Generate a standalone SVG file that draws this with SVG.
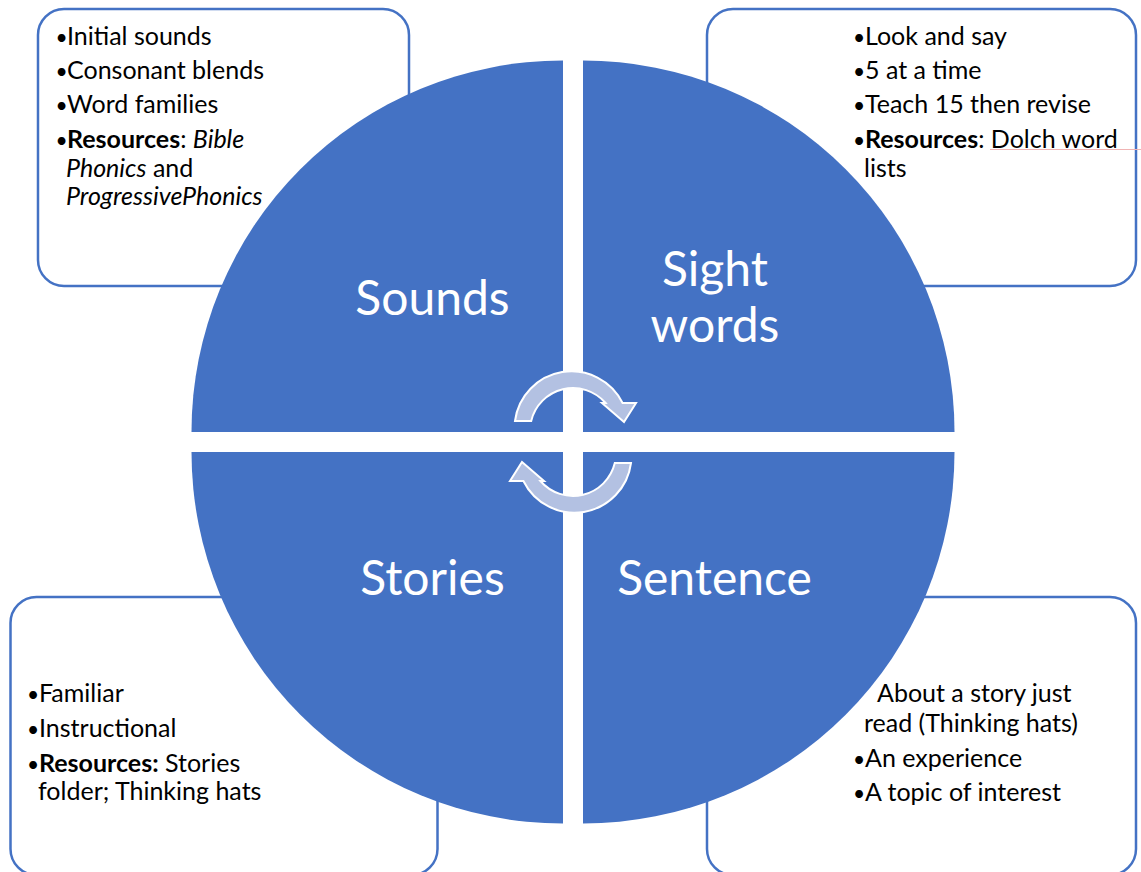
<svg xmlns="http://www.w3.org/2000/svg" width="1141" height="872" viewBox="0 0 1141 872">
  <style>
    .box { fill: #ffffff; stroke: #4472C4; stroke-width: 2.5; }
    .quad { fill: #4472C4; }
    .label { font-family: Lato, "Open Sans", sans-serif; font-size: 48px; fill: #ffffff; text-anchor: middle; }
    .txt { font-family: Lato, "Open Sans", sans-serif; font-size: 25px; fill: #000000; }
    .dot { font-family: Lato, "Open Sans", sans-serif; font-size: 21px; fill: #000000; }
    .b { font-weight: bold; }
    .i { font-style: italic; }
    .arrow { fill: #B3C1E2; stroke: #ffffff; stroke-width: 2; stroke-linejoin: miter; }
  </style>
  <defs>
    <!-- curved cycle arrow, drawn once and reused (second copy turned 180 degrees) -->
    <path id="cyc" d="M 515,421 A 57 57 0 0 1 622.6,403 L 636,403 L 624,422 L 602,403 L 605.6,403 A 43 43 0 0 0 531.2,421 Z"/>
  </defs>

  <!-- text panels behind the pie -->
  <g id="panel-sounds">
    <rect class="box" x="38" y="9" width="371" height="277" rx="26"/>
    <text class="dot" x="55.5" y="45">•</text><text class="txt" x="67" y="45">Initial sounds</text>
    <text class="dot" x="55.5" y="79">•</text><text class="txt" x="67" y="79">Consonant blends</text>
    <text class="dot" x="55.5" y="113">•</text><text class="txt" x="67" y="113">Word families</text>
    <text class="dot" x="55.5" y="148">•</text><text class="txt" x="67" y="148"><tspan class="b">Resources</tspan>: <tspan class="i">Bible</tspan></text>
    <text class="txt" x="66" y="177"><tspan class="i">Phonics</tspan> and</text>
    <text class="txt i" x="66" y="205">ProgressivePhonics</text>
  </g>

  <g id="panel-sight">
    <rect class="box" x="707" y="9" width="429" height="277" rx="26"/>
    <line x1="990" y1="149.5" x2="1141" y2="149.5" stroke="#F0B4B4" stroke-width="1"/>
    <text class="dot" x="853" y="45">•</text><text class="txt" x="865" y="45">Look and say</text>
    <text class="dot" x="853" y="79">•</text><text class="txt" x="865" y="79">5 at a time</text>
    <text class="dot" x="853" y="113">•</text><text class="txt" x="865" y="113">Teach 15 then revise</text>
    <text class="dot" x="853" y="148">•</text><text class="txt" x="865" y="148"><tspan class="b">Resources</tspan>: Dolch word</text>
    <text class="txt" x="864" y="177">lists</text>
  </g>

  <g id="panel-stories">
    <rect class="box" x="10.5" y="597" width="427" height="278" rx="26"/>
    <text class="dot" x="27" y="702">•</text><text class="txt" x="39" y="702">Familiar</text>
    <text class="dot" x="27" y="737">•</text><text class="txt" x="39" y="737">Instructional</text>
    <text class="dot" x="27" y="772">•</text><text class="txt" x="39" y="772"><tspan class="b">Resources:</tspan> Stories</text>
    <text class="txt" x="38" y="800">folder; Thinking hats</text>
  </g>

  <g id="panel-sentence">
    <rect class="box" x="707" y="597" width="429" height="278" rx="26"/>
    <text class="txt" x="877" y="702">About a story just</text>
    <text class="txt" x="864" y="732">read (Thinking hats)</text>
    <text class="dot" x="853" y="767">•</text><text class="txt" x="865" y="767">An experience</text>
    <text class="dot" x="853" y="801">•</text><text class="txt" x="865" y="801">A topic of interest</text>
  </g>

  <!-- four quarters of the pie -->
  <g id="sounds">
    <path class="quad" d="M 563,432 L 191.5,432 A 371.5 371.5 0 0 1 563,60.5 Z"/>
    <text class="label" x="432.5" y="315">Sounds</text>
  </g>
  <g id="sight-words">
    <path class="quad" d="M 583,432 L 583,60.5 A 371.5 371.5 0 0 1 954.5,432 Z"/>
    <text class="label" x="715" y="286">Sight</text>
    <text class="label" x="715" y="342">words</text>
  </g>
  <g id="sentence">
    <path class="quad" d="M 583,452 L 954.5,452 A 371.5 371.5 0 0 1 583,823.5 Z"/>
    <text class="label" x="714.5" y="595">Sentence</text>
  </g>
  <g id="stories">
    <path class="quad" d="M 563,452 L 563,823.5 A 371.5 371.5 0 0 1 191.5,452 Z"/>
    <text class="label" x="432.5" y="595">Stories</text>
  </g>

  <!-- cycle arrows in the middle -->
  <g id="connectors">
    <use href="#cyc" class="arrow"/>
    <use href="#cyc" class="arrow" transform="rotate(180 573 442)"/>
  </g>
</svg>
